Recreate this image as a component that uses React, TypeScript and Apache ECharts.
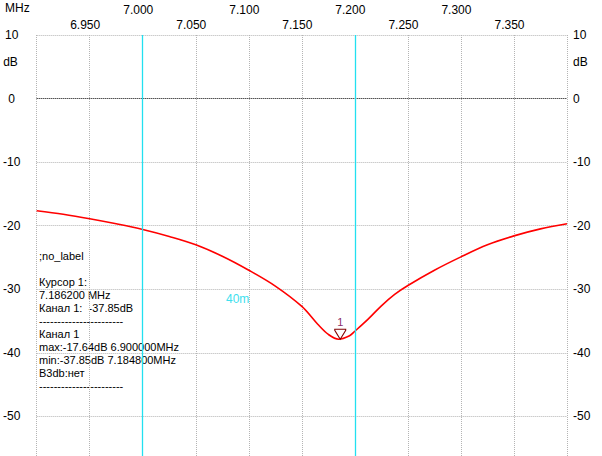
import React, { useEffect, useRef } from 'react';
import * as echarts from 'echarts';

const freqs = [
  6.9, 6.925, 6.95, 6.975, 7.0, 7.025, 7.05, 7.075, 7.1, 7.125, 7.15, 7.165, 7.175,
  7.1848, 7.195, 7.2, 7.2125, 7.225, 7.2375, 7.25, 7.275, 7.3, 7.325, 7.35, 7.375, 7.4,
];
const levels = [
  -17.64, -18.2, -18.9, -19.7, -20.6, -21.7, -23.0, -24.8, -27.0, -29.5, -32.7, -35.5, -37.1,
  -37.85, -37.3, -36.6, -34.7, -32.6, -30.8, -29.4, -27.0, -24.9, -23.0, -21.6, -20.5, -19.7,
];

const bandEdges = [7.0, 7.2];
const cursorFreq = 7.1862;
const cursorLevel = -37.85;

const infoLines = [
  ';no_label',
  '',
  'Курсор 1:',
  '7.186200 MHz',
  'Канал 1:  -37.85dB',
  '-----------------------',
  'Канал 1',
  'max:-17.64dB 6.900000MHz',
  'min:-37.85dB 7.184800MHz',
  'B3db:нет',
  '-----------------------',
];

const FONT = 'Liberation Sans, Arial, sans-serif';

const App: React.FC = () => {
  const chartRef = useRef<HTMLDivElement>(null);

  useEffect(() => {
    document.body.style.margin = '0';
    document.body.style.overflow = 'hidden';
    if (!chartRef.current) return;
    const chart = echarts.init(chartRef.current, undefined, { renderer: 'svg' });

    const gridLine = { show: true, lineStyle: { color: '#b4b4b4', type: 'dotted' as const, width: 1 } };
    const khz = (v: number) => Math.round(v * 1000);
    // -60 sits below the window edge, so its label is left out
    const dbLabel = (v: number) => (v <= -60 ? '' : String(v));

    chart.setOption({
      animation: false,
      backgroundColor: '#ffffff',
      textStyle: { fontFamily: FONT },
      // chart div is taller than the window: the dB scale runs on past the bottom edge
      grid: { left: 35, right: 35, top: 35, bottom: 0 },
      xAxis: [
        {
          type: 'value',
          position: 'top',
          min: 6.9,
          max: 7.4,
          interval: 0.05,
          axisLine: { show: false },
          axisTick: { show: false },
          splitLine: gridLine,
          axisLabel: {
            margin: 4,
            fontSize: 12,
            color: '#000',
            fontFamily: FONT,
            padding: [0, 9, 0, 0],
            formatter: (v: number) => (khz(v) % 100 === 50 ? (khz(v) / 1000).toFixed(3) : ''),
          },
        },
        {
          type: 'value',
          position: 'top',
          min: 6.9,
          max: 7.4,
          interval: 0.1,
          offset: 15,
          axisLine: { show: false },
          axisTick: { show: false },
          splitLine: { show: false },
          axisLabel: {
            margin: 4,
            fontSize: 12,
            color: '#000',
            fontFamily: FONT,
            padding: [0, 9, 0, 0],
            formatter: (v: number) => {
              const k = khz(v);
              return k > 6900 && k < 7400 ? (k / 1000).toFixed(3) : '';
            },
          },
        },
      ],
      yAxis: [
        {
          type: 'value',
          position: 'left',
          min: -60,
          max: 10,
          interval: 10,
          axisLine: { show: false },
          axisTick: { show: false },
          splitLine: {
            show: true,
            lineStyle: {
              color: ['#b4b4b4', '#b4b4b4', '#b4b4b4', '#b4b4b4', '#b4b4b4', '#b4b4b4', '#000000', '#b4b4b4'],
              type: 'dotted',
              width: 1,
            },
          },
          axisLabel: { margin: 25, align: 'center', fontSize: 12, color: '#000', fontFamily: FONT, formatter: dbLabel },
        },
        {
          type: 'value',
          position: 'right',
          min: -60,
          max: 10,
          interval: 10,
          axisLine: { show: false },
          axisTick: { show: false },
          splitLine: { show: false },
          axisLabel: { margin: 6, align: 'left', fontSize: 12, color: '#000', fontFamily: FONT, formatter: dbLabel },
        },
      ],
      series: [
        {
          type: 'line',
          xAxisIndex: 0,
          yAxisIndex: 0,
          data: freqs.map((f, i) => [f, levels[i]]),
          showSymbol: false,
          smooth: 0.35,
          lineStyle: { color: '#ff0000', width: 1.6 },
          markLine: {
            silent: true,
            symbol: ['none', 'none'],
            label: { show: false },
            lineStyle: { color: '#22e0f0', type: 'solid', width: 1.3 },
            data: bandEdges.map((x) => ({ xAxis: x })),
          },
          markPoint: {
            silent: true,
            symbol: 'path://M0,0L12,0L12,1.2L6,11L0,1.2Z',
            symbolSize: [11, 10],
            symbolOffset: [0, -5],
            itemStyle: { color: '#ffffff', borderColor: '#800000', borderWidth: 1 },
            label: {
              show: true,
              position: 'top',
              distance: 1,
              formatter: '1',
              color: '#8b2f6b',
              fontSize: 11,
              fontFamily: FONT,
            },
            data: [{ coord: [cursorFreq, cursorLevel] }],
          },
        },
      ],
      graphic: [
        {
          type: 'text',
          left: 5,
          top: 2,
          style: { text: 'MHz', fontSize: 12, fill: '#000', fontFamily: FONT },
        },
        {
          type: 'text',
          x: 10.5,
          y: 62,
          style: { text: 'dB', fontSize: 12, fill: '#000', fontFamily: FONT, align: 'center', verticalAlign: 'middle' },
        },
        {
          type: 'text',
          x: 573,
          y: 62,
          style: { text: 'dB', fontSize: 12, fill: '#000', fontFamily: FONT, align: 'left', verticalAlign: 'middle' },
        },
        {
          type: 'text',
          x: 226,
          y: 299,
          style: { text: '40m', fontSize: 12, fill: '#3ee0ee', fontFamily: FONT, verticalAlign: 'middle' },
        },
        {
          type: 'text',
          x: 39,
          y: 249.5,
          style: {
            text: infoLines.join('\n'),
            fontSize: 11,
            lineHeight: 13,
            fill: '#000',
            fontFamily: FONT,
          },
        },
      ],
    });

    return () => {
      chart.dispose();
    };
  }, []);

  return (
    <div
      ref={chartRef}
      style={{ position: 'fixed', left: 0, top: 0, width: '602px', height: '480px' }}
    ></div>
  );
};

export default App;
